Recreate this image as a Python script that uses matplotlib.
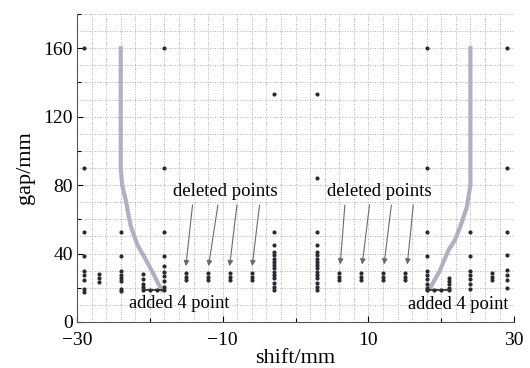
import matplotlib
matplotlib.use("Agg")
import matplotlib.pyplot as plt
import numpy as np

# sample columns: shift position and the gap values measured in that column
left_shift = [-29, -27, -24, -21, -18, -3]
left_gaps = [
    [160, 90, 52.5, 38.5, 30, 27.5, 24.5, 19.5, 17.5],
    [28, 25.7, 23.5],
    [52.5, 38.5, 30, 27.5, 26, 24, 19.5, 18],
    [28, 25, 22.2, 20.5],
    [160, 90, 52.5, 38.5, 33, 29, 27, 24, 20.3],
    [133, 52.5, 45, 41, 39, 37, 35, 33.3, 31.3, 29.4, 27.4, 25.5, 22.6, 20.6, 18.7],
]
right_shift = [3, 18, 21, 24, 27, 29]
right_gaps = [
    [133, 84, 52.5, 45, 41, 39, 37, 35, 33.3, 31.3, 29.4, 27.4, 25.5, 22.6, 20.6, 18.7],
    [160, 90, 52.5, 38.5, 30, 27.5, 25, 22, 20],
    [26, 24, 22, 20],
    [52.5, 38.5, 30, 27.5, 25, 22, 19],
    [28.6, 26.5, 24.5],
    [160, 90, 52.5, 39, 30.4, 27.4, 24.5, 19.8],
]
deleted_shift = [-15, -12, -9, -6, 6, 9, 12, 15]
deleted_gaps = [28.4, 26.5, 24.5]

# the 4 added points at the foot of each boundary curve
added_left_shift = [-21, -20, -19, -18]
added_right_shift = [18, 19, 20, 21]
added_gap = [18.5, 18.5, 18.5, 18.5]

# boundary curves
curve_left_gap = [160, 90, 80, 71, 62, 55.7, 45, 36, 28, 22, 18.5]
curve_left_shift = [-24, -24, -23.8, -23.3, -22.9, -22.6, -21.7, -20.5, -19.5, -18.8, -18.3]
curve_right_gap = [160, 80, 67, 55.6, 48, 42, 30, 20, 18.5]
curve_right_shift = [24, 24, 23.5, 22.6, 21.9, 21, 19.8, 18.5, 18.2]

# arrows for the deleted points (start shift, end shift)
arrow_left_start = [-14.1, -10.6, -8.0, -4.9]
arrow_left_end = [-15.1, -12.0, -9.1, -6.0]
arrow_right_start = [6.8, 10.2, 13.2, 16.2]
arrow_right_end = [6.1, 9.1, 12.1, 15.3]

plt.rcParams['font.family'] = ['Liberation Serif', 'DejaVu Serif']

fig = plt.figure(figsize=(5.3, 3.68), dpi=100)
ax = fig.add_axes([0.1453, 0.125, 0.8247, 0.837])

# dotted grid every 2 mm in shift and 10 mm in gap
for x in np.arange(-30, 31, 2):
    ax.axvline(x, color='#9a9a9a', lw=0.6, ls=(0, (1, 2)), zorder=0)
for y in np.arange(10, 181, 10):
    ax.axhline(y, color='#9a9a9a', lw=0.6, ls=(0, (1, 2)), zorder=0)

# boundary curves
ax.plot(curve_left_shift, curve_left_gap, color='#b0b0c2', lw=3, zorder=2)
ax.plot(curve_right_shift, curve_right_gap, color='#b0b0c2', lw=3, zorder=2)

# sample points
for s, g in zip(left_shift + right_shift, left_gaps + right_gaps):
    ax.plot([s] * len(g), g, 'o', color='#2b2b35', ms=3, mew=0, zorder=3)
for s in deleted_shift:
    ax.plot([s] * len(deleted_gaps), deleted_gaps, 'o', color='#2b2b35', ms=3, mew=0, zorder=3)

# added points
ax.plot(added_left_shift, added_gap, '-o', color='#2b2b35', ms=3, mew=0, lw=1.2, zorder=3)
ax.plot(added_right_shift, added_gap, '-o', color='#2b2b35', ms=3, mew=0, lw=1.2, zorder=3)

# annotations
arrow_style = dict(arrowstyle='-|>', color='#6a6a6a', lw=0.8, mutation_scale=8)
for x0, x1 in zip(arrow_left_start, arrow_left_end):
    ax.annotate('', xy=(x1, 31), xytext=(x0, 70), arrowprops=arrow_style)
for x0, x1 in zip(arrow_right_start, arrow_right_end):
    ax.annotate('', xy=(x1, 32), xytext=(x0, 70), arrowprops=arrow_style)
ax.text(-9.7, 76, 'deleted points', fontsize=13.5, ha='center', va='center')
ax.text(11.5, 76, 'deleted points', fontsize=13.5, ha='center', va='center')
ax.text(-16.0, 11, 'added 4 point', fontsize=13.3, ha='center', va='center')
ax.text(22.4, 10.5, 'added 4 point', fontsize=13.3, ha='center', va='center')

ax.set_xlim(-30, 30)
ax.set_ylim(0, 180)
ax.set_xticks([-30, -10, 10, 30])
ax.set_xticks([-20, 0, 20], minor=True)
ax.set_yticks([0, 40, 80, 120, 160])
ax.set_yticks([20, 60, 100, 140, 180], minor=True)
ax.set_xticklabels(['\u221230', '\u221210', '10', '30'])
ax.tick_params(which='both', direction='in', labelsize=14, length=4, width=0.8)
ax.tick_params(axis='x', pad=7)
ax.tick_params(axis='y', pad=3)
ax.tick_params(which='minor', length=3)
ax.spines['top'].set_visible(False)
ax.spines['right'].set_visible(False)
ax.spines['left'].set_color('#555555')
ax.spines['bottom'].set_color('#555555')

ax.set_xlabel('shift/mm', fontsize=16, labelpad=0)
ax.set_ylabel('gap/mm', fontsize=16, labelpad=6)

fig.savefig('out.png', dpi=100)
